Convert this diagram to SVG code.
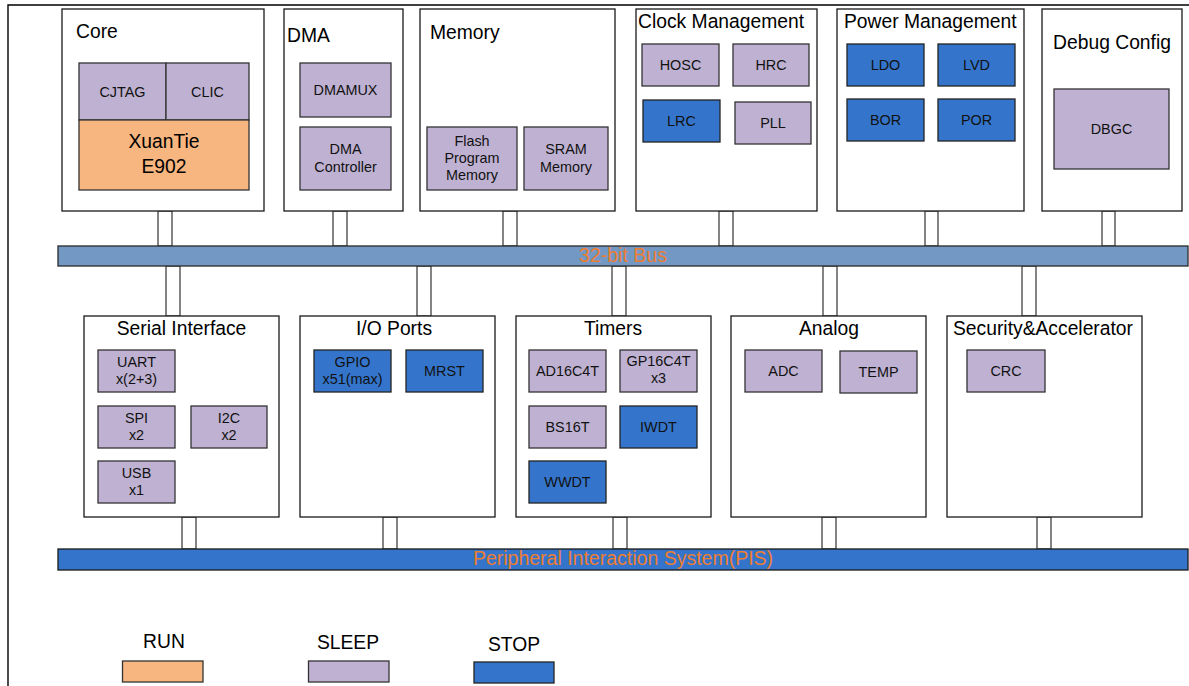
<svg xmlns="http://www.w3.org/2000/svg" width="1189" height="686" viewBox="0 0 1189 686">
<style>
.bg{fill:#fff}
.box{fill:#fff;stroke:#1a1a1a;stroke-width:1.3}
.sl{fill:#BFB1D1;stroke:#333;stroke-width:1.3}
.st{fill:#3475CB;stroke:#222;stroke-width:1.3}
.rn{fill:#F7B57F;stroke:#333;stroke-width:1.3}
.stub{fill:#fff;stroke:#333;stroke-width:1.2}
.bus1{fill:#7398C4;stroke:#2a2a2a;stroke-width:1.3}
.bus2{fill:#3475CB;stroke:#1a1a1a;stroke-width:1.3}
text{font-family:"Liberation Sans",Arial,Helvetica,sans-serif;fill:#000}
.t{font-size:19.3px}
.c{text-anchor:middle}
.s{font-size:14.4px;text-anchor:middle;fill:#111}
.b{font-size:19.5px;text-anchor:middle;fill:#ED7D31}
.frameline{stroke:#000;stroke-width:1.4;fill:none}
</style>
<rect class="bg" x="0" y="0" width="1189" height="686"/>
<path class="frameline" d="M8 686 V5 H1189"/>

<g id="connectors">
  <rect class="stub" x="158" y="211" width="14" height="35"/>
  <rect class="stub" x="333" y="211" width="14" height="35"/>
  <rect class="stub" x="503" y="211" width="14" height="35"/>
  <rect class="stub" x="719" y="211" width="14" height="35"/>
  <rect class="stub" x="925" y="211" width="13" height="35"/>
  <rect class="stub" x="1102" y="211" width="13" height="35"/>
  <rect class="stub" x="166" y="266" width="14" height="50"/>
  <rect class="stub" x="417" y="266" width="14" height="50"/>
  <rect class="stub" x="612" y="266" width="14" height="50"/>
  <rect class="stub" x="823" y="266" width="14" height="50"/>
  <rect class="stub" x="1022" y="266" width="14" height="50"/>
  <rect class="stub" x="182" y="517" width="14" height="32"/>
  <rect class="stub" x="383" y="517" width="14" height="32"/>
  <rect class="stub" x="613" y="517" width="14" height="32"/>
  <rect class="stub" x="822" y="517" width="14" height="32"/>
  <rect class="stub" x="1037" y="517" width="14" height="32"/>
</g>

<g id="bus32">
  <rect class="bus1" x="58" y="246" width="1130" height="20"/>
  <text class="b" x="623" y="262">32-bit Bus</text>
</g>
<g id="pis">
  <rect class="bus2" x="58" y="549" width="1130" height="21"/>
  <text class="b" x="623" y="565">Peripheral Interaction System(PIS)</text>
</g>

<g id="core">
  <rect class="box" x="62" y="9" width="202" height="202"/>
  <text class="t" x="76" y="38">Core</text>
  <rect class="sl" x="79" y="63" width="87" height="57"/>
  <text class="s" x="122.5" y="96.5">CJTAG</text>
  <rect class="sl" x="166" y="63" width="83" height="57"/>
  <text class="s" x="207.5" y="96.5">CLIC</text>
  <rect class="rn" x="79" y="120" width="170" height="70"/>
  <text class="t c" x="164" y="148.3">XuanTie</text>
  <text class="t c" x="164" y="172.7">E902</text>
</g>

<g id="dma">
  <rect class="box" x="284" y="9" width="119" height="202"/>
  <text class="t" x="287" y="42">DMA</text>
  <rect class="sl" x="300" y="63" width="91" height="54"/>
  <text class="s" x="345.5" y="95">DMAMUX</text>
  <rect class="sl" x="300" y="127" width="91" height="63"/>
  <text class="s" x="345.5" y="154">DMA</text>
  <text class="s" x="345.5" y="171.7">Controller</text>
</g>

<g id="memory">
  <rect class="box" x="420" y="9" width="195" height="202"/>
  <text class="t" x="430" y="39">Memory</text>
  <rect class="sl" x="427" y="127" width="90" height="63"/>
  <text class="s" x="472" y="145.7">Flash</text>
  <text class="s" x="472" y="163">Program</text>
  <text class="s" x="472" y="180">Memory</text>
  <rect class="sl" x="524" y="127" width="84" height="63"/>
  <text class="s" x="566" y="154">SRAM</text>
  <text class="s" x="566" y="171.7">Memory</text>
</g>

<g id="clock">
  <rect class="box" x="636" y="9" width="181" height="202"/>
  <text class="t" x="638" y="28">Clock Management</text>
  <rect class="sl" x="642" y="44" width="77" height="42"/>
  <text class="s" x="680.5" y="70">HOSC</text>
  <rect class="sl" x="733" y="44" width="76" height="42"/>
  <text class="s" x="771" y="70">HRC</text>
  <rect class="st" x="643" y="100" width="77" height="42"/>
  <text class="s" x="681.5" y="126">LRC</text>
  <rect class="sl" x="735" y="102" width="76" height="42"/>
  <text class="s" x="773" y="128">PLL</text>
</g>

<g id="power">
  <rect class="box" x="837" y="9" width="187" height="202"/>
  <text class="t" x="844" y="28">Power Management</text>
  <rect class="st" x="847" y="44" width="77" height="42"/>
  <text class="s" x="885.5" y="70">LDO</text>
  <rect class="st" x="938" y="44" width="77" height="42"/>
  <text class="s" x="976.5" y="70">LVD</text>
  <rect class="st" x="847" y="99" width="77" height="42"/>
  <text class="s" x="885.5" y="125">BOR</text>
  <rect class="st" x="938" y="99" width="77" height="42"/>
  <text class="s" x="976.5" y="125">POR</text>
</g>

<g id="debug">
  <rect class="box" x="1042" y="9" width="140" height="202"/>
  <text class="t c" x="1112" y="49">Debug Config</text>
  <rect class="sl" x="1054" y="89" width="115" height="80"/>
  <text class="s" x="1111.5" y="134">DBGC</text>
</g>

<g id="serial">
  <rect class="box" x="84" y="316" width="195" height="201"/>
  <text class="t c" x="181.5" y="335">Serial Interface</text>
  <rect class="sl" x="98" y="350" width="77" height="42"/>
  <text class="s" x="136.5" y="367">UART</text>
  <text class="s" x="136.5" y="384">x(2+3)</text>
  <rect class="sl" x="98" y="406" width="77" height="42"/>
  <text class="s" x="136.5" y="423">SPI</text>
  <text class="s" x="136.5" y="440">x2</text>
  <rect class="sl" x="191" y="406" width="76" height="42"/>
  <text class="s" x="229" y="423">I2C</text>
  <text class="s" x="229" y="440">x2</text>
  <rect class="sl" x="98" y="461" width="77" height="42"/>
  <text class="s" x="136.5" y="478">USB</text>
  <text class="s" x="136.5" y="495">x1</text>
</g>

<g id="io">
  <rect class="box" x="300" y="316" width="195" height="201"/>
  <text class="t c" x="394" y="335">I/O Ports</text>
  <rect class="st" x="314" y="350" width="77" height="42"/>
  <text class="s" x="352.5" y="367">GPIO</text>
  <text class="s" x="352.5" y="384">x51(max)</text>
  <rect class="st" x="406" y="350" width="77" height="42"/>
  <text class="s" x="444.5" y="376">MRST</text>
</g>

<g id="timers">
  <rect class="box" x="516" y="316" width="195" height="201"/>
  <text class="t c" x="613" y="335">Timers</text>
  <rect class="sl" x="529" y="350" width="77" height="42"/>
  <text class="s" x="567.5" y="376">AD16C4T</text>
  <rect class="sl" x="620" y="350" width="77" height="42"/>
  <text class="s" x="658.5" y="366">GP16C4T</text>
  <text class="s" x="658.5" y="383">x3</text>
  <rect class="sl" x="529" y="406" width="77" height="42"/>
  <text class="s" x="567.5" y="432">BS16T</text>
  <rect class="st" x="620" y="406" width="77" height="42"/>
  <text class="s" x="658.5" y="432">IWDT</text>
  <rect class="st" x="529" y="461" width="77" height="42"/>
  <text class="s" x="567.5" y="487">WWDT</text>
</g>

<g id="analog">
  <rect class="box" x="731" y="316" width="195" height="201"/>
  <text class="t c" x="829" y="335">Analog</text>
  <rect class="sl" x="745" y="350" width="77" height="42"/>
  <text class="s" x="783.5" y="376">ADC</text>
  <rect class="sl" x="840" y="351" width="77" height="42"/>
  <text class="s" x="878.5" y="377">TEMP</text>
</g>

<g id="security">
  <rect class="box" x="947" y="316" width="195" height="201"/>
  <text class="t c" x="1043" y="335">Security&amp;Accelerator</text>
  <rect class="sl" x="967" y="350" width="78" height="42"/>
  <text class="s" x="1006" y="376">CRC</text>
</g>

<g id="legend-run">
  <text class="t c" x="164" y="648">RUN</text>
  <rect class="rn" x="122.5" y="661" width="80.5" height="21"/>
</g>
<g id="legend-sleep">
  <text class="t c" x="348" y="649">SLEEP</text>
  <rect class="sl" x="308.5" y="661" width="80.5" height="21"/>
</g>
<g id="legend-stop">
  <text class="t c" x="514" y="651">STOP</text>
  <rect class="st" x="474" y="662" width="80" height="21"/>
</g>
</svg>
